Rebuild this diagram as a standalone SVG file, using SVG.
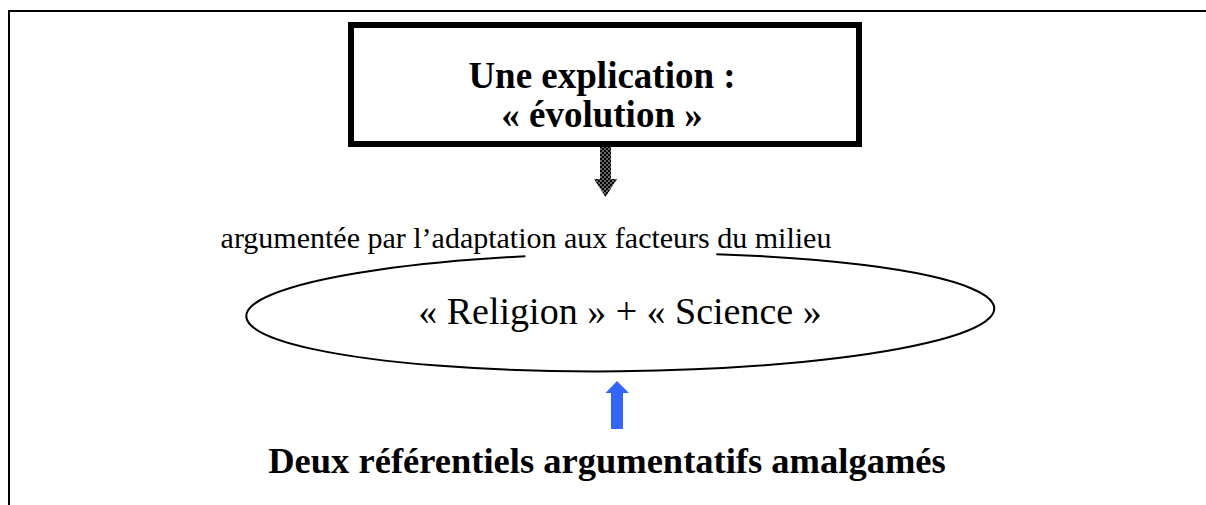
<svg xmlns="http://www.w3.org/2000/svg" width="1206" height="505" viewBox="0 0 1206 505">
  <style>
    .serif { font-family: "Liberation Serif", "Times New Roman", "DejaVu Serif", serif; fill: #000; }
    .bold { font-weight: bold; }
    .frame { stroke: #000; stroke-width: 2; fill: none; }
  </style>
  <defs>
    <pattern id="dots" width="4" height="4" patternUnits="userSpaceOnUse">
      <rect width="4" height="4" fill="#000"/>
      <circle cx="1" cy="1" r="0.75" fill="#fff"/>
      <circle cx="3" cy="3" r="0.75" fill="#fff"/>
    </pattern>
  </defs>
  <rect width="1206" height="505" fill="#fff"/>
  <g id="frame">
    <line class="frame" x1="8" y1="11" x2="1206" y2="11"/>
    <line class="frame" x1="9" y1="10" x2="9" y2="505"/>
  </g>
  <g id="connectors">
    <path d="M600,147 H611 V179 H617 L605.5,197 L594,179 H600 Z" fill="url(#dots)"/>
    <path d="M611,429 V393 H605.5 L617,381 L629,393 H623 V429 Z" fill="#3366ff"/>
  </g>
  <g id="explication">
    <rect x="351" y="25" width="508" height="119" fill="#fff" stroke="#000" stroke-width="6"/>
    <text class="serif bold" x="602" y="88" font-size="37" text-anchor="middle">Une explication :</text>
    <text class="serif bold" x="602" y="127" font-size="37" text-anchor="middle">« évolution »</text>
  </g>
  <g id="argumentee">
    <text class="serif" x="526" y="248" font-size="30" text-anchor="middle">argumentée par l’adaptation aux facteurs du milieu</text>
  </g>
  <g id="religion-science">
    <g transform="rotate(-0.6 620 314)">
      <path d="M717,255.3 A374,59 0 1 1 526,255.2" fill="none" stroke="#000" stroke-width="2"/>
    </g>
    <text class="serif" x="620" y="324" font-size="38" text-anchor="middle">« Religion » + « Science »</text>
  </g>
  <g id="deux-referentiels">
    <text class="serif bold" x="607" y="473" font-size="36.5" text-anchor="middle">Deux référentiels argumentatifs amalgamés</text>
  </g>
</svg>
